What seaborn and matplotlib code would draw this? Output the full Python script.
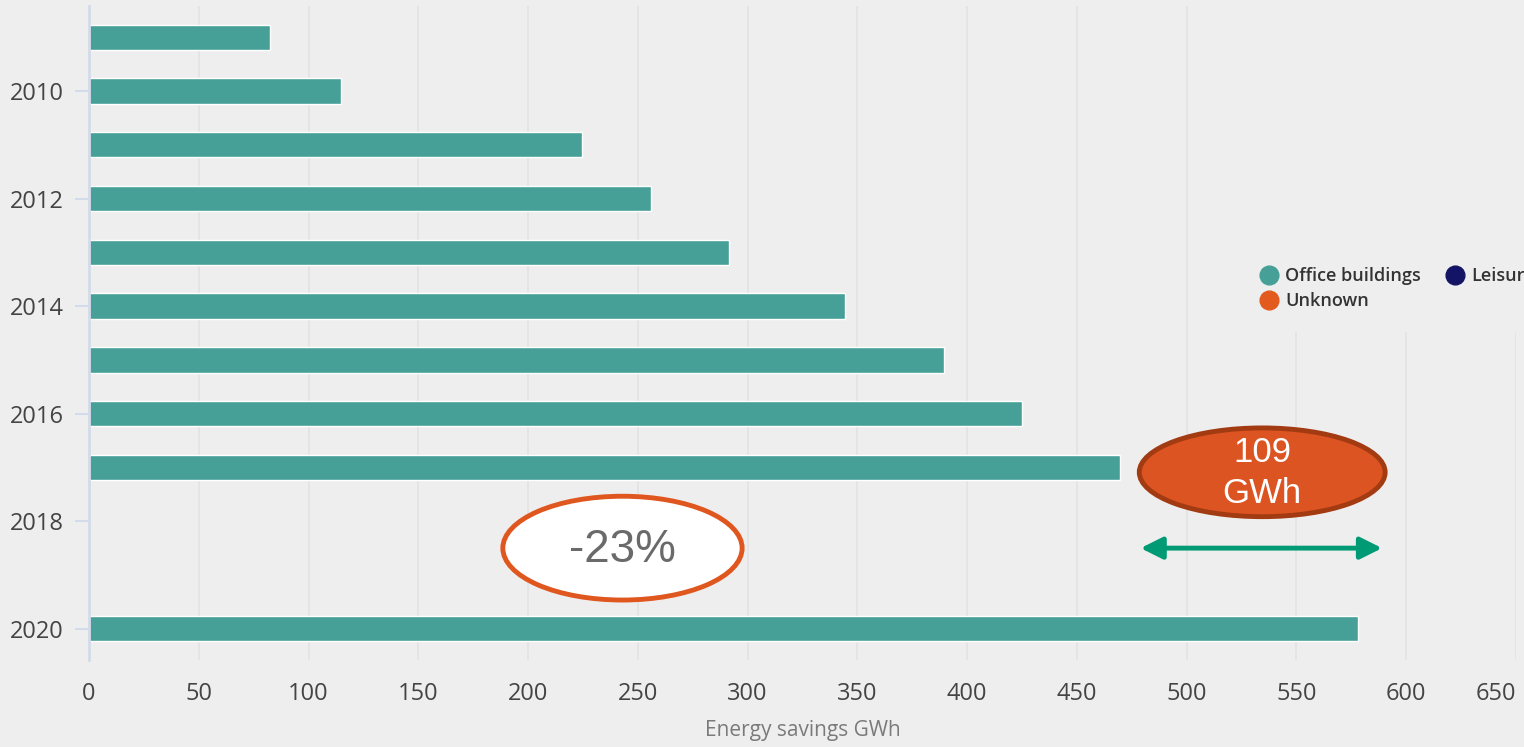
import matplotlib
matplotlib.use("Agg")
import matplotlib.pyplot as plt
from matplotlib.patches import Ellipse, Rectangle
from matplotlib.lines import Line2D
import seaborn as sns
import pandas as pd

# ---- data ----
years = [2009, 2010, 2011, 2012, 2013, 2014, 2015, 2016, 2017, 2020]
savings = [82.5, 115, 224.5, 256, 291.5, 344.5, 389.5, 425, 469.5, 578]
ytick_years = [2010, 2012, 2014, 2016, 2018, 2020]
xticks = list(range(0, 651, 50))
legend_labels = ["Office buildings", "Unknown", "Leisure"]
legend_colors = ["#46A097", "#E35A1E", "#141466"]
pct_label = "-23%"
gap_label = "109\nGWh"
arrow_from, arrow_to = 479, 589

BG = "#EEEEEE"
BAR = "#46A097"

sns.set_theme(style="white")
plt.rcParams["font.family"] = ["Open Sans", "DejaVu Sans"]

fig = plt.figure(figsize=(15.24, 7.47), dpi=100, facecolor=BG)
ax = fig.add_axes([89/1524, 1 - 660/747, (1516 - 89)/1524, (660 - 6)/747])
ax.set_facecolor(BG)

df = pd.DataFrame({"year": years, "savings": savings})
sns.barplot(data=df, x="savings", y="year", orient="h", native_scale=True,
            width=0.47, color=BAR, saturation=1, edgecolor="white",
            linewidth=1.0, ax=ax, zorder=3)

ax.set_xlim(0, 650)
ax.set_ylim(2020.58, 2008.42)
ax.set_xticks(xticks)
ax.set_xticklabels([str(t) for t in xticks])
ax.set_yticks(ytick_years)
ax.set_yticklabels([str(t) for t in ytick_years])

ax.grid(axis="x", color="#E3E3E3", linewidth=1.2, zorder=0)
ax.grid(axis="y", visible=False)
for s in ["top", "right", "bottom"]:
    ax.spines[s].set_visible(False)
ax.spines["left"].set_color("#D3DAEA")
ax.spines["left"].set_linewidth(2)
ax.spines["left"].set_zorder(4)

ax.tick_params(axis="y", length=10, width=1.5, color="#D3DAEA", pad=8,
               labelsize=17, labelcolor="#444444", left=True)
ax.tick_params(axis="x", length=0, pad=16, labelsize=17, labelcolor="#444444")
lbls = ax.get_xticklabels()
lbls[-1].set_horizontalalignment("right")
lbls[-1].set_x(650)

ax.set_xlabel("Energy savings GWh", fontsize=15, color="#7A7A7A", labelpad=10)
ax.set_ylabel("")

# legend background panel (hides gridlines behind the legend area)
fig.add_artist(Rectangle((1228/1524, 1 - 332/747), 1 - 1228/1524, 332/747,
                         transform=fig.transFigure, facecolor=BG,
                         edgecolor="none", zorder=1))

handles = [Line2D([0], [0], marker="o", linestyle="none", markersize=13.5,
                  markerfacecolor=c, markeredgecolor=c) for c in legend_colors]
leg = fig.legend(handles, legend_labels, loc="upper left",
                 bbox_to_anchor=(1260/1524, 1 - 267/747), ncol=2,
                 frameon=False, borderpad=0, borderaxespad=0,
                 handlelength=1.0, handletextpad=0.4, columnspacing=1.4,
                 labelspacing=0.38,
                 prop={"weight": "semibold", "size": 13})
leg.set_zorder(2)
for t in leg.get_texts():
    t.set_color("#333333")

# annotations
e1 = Ellipse((243, 2018.5), 109, 1.93, facecolor="white", edgecolor="#E0561F",
             linewidth=3.5, zorder=5)
ax.add_patch(e1)
ax.text(243, 2018.53, pct_label, ha="center", va="center", fontsize=33,
        color="#6A6A6A", family=["Liberation Sans", "DejaVu Sans"], zorder=6)

e2 = Ellipse((534.4, 2017.09), 112, 1.65, facecolor="#DC5421", edgecolor="#A23A12",
             linewidth=3.5, zorder=5)
ax.add_patch(e2)
ax.text(534.4, 2017.11, gap_label, ha="center", va="center", fontsize=25,
        color="white", linespacing=1.3, family=["Liberation Sans", "DejaVu Sans"],
        zorder=6)

ax.annotate("", xy=(arrow_to, 2018.5), xytext=(arrow_from, 2018.5),
            arrowprops=dict(arrowstyle="<|-|>,head_length=1.1,head_width=0.55",
                            color="#009B74", lw=3.5, shrinkA=0, shrinkB=0),
            zorder=6)

fig.savefig("out.png", dpi=100, facecolor=BG)
